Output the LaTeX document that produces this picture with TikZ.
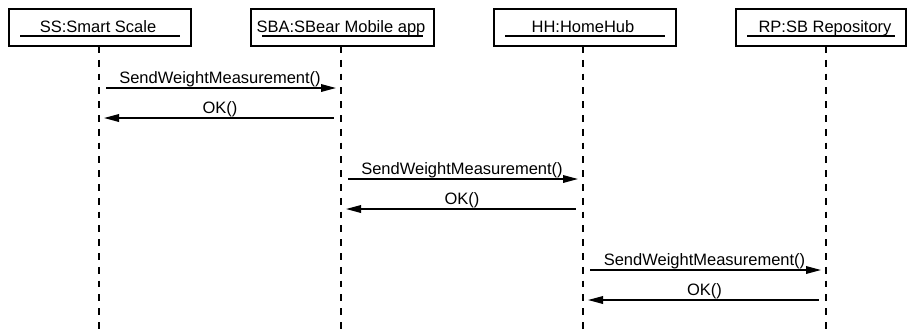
\documentclass[tikz,border=0pt]{standalone}
\usepackage{fontspec}
\setmainfont{Liberation Sans}
\usetikzlibrary{arrows.meta}
\begin{document}
\begin{tikzpicture}[x=0.5pt,y=-0.5pt,
  every node/.style={font=\fontsize{8.25}{10}\selectfont},
  box/.style={draw, line width=0.95pt, minimum height=18.5pt, inner sep=0pt, anchor=north west},
  boxlbl/.style={anchor=base, inner sep=0pt},
  uline/.style={line width=0.6pt},
  lifeline/.style={line width=0.8pt, dash pattern=on 3.4pt off 3.5pt},
  msg/.style={line width=0.75pt, -{Triangle[length=7.5pt,width=3.8pt]}, shorten <=3.7pt, shorten >=2.5pt},
  lbl/.style={anchor=base, inner sep=0pt, yshift=2.5pt}]
\useasboundingbox (0,0) rectangle (907,329);
% boxes
\node[box, minimum width=91pt] (ssbox) at (8,8) {};
\node[box, minimum width=91.5pt] (sbabox) at (250,8) {};
\node[box, minimum width=91pt] (hhbox) at (493,8) {};
\node[box, minimum width=85pt] (rpbox) at (735,8) {};
\foreach \b in {ssbox,sbabox,hhbox,rpbox}
  \draw[uline] ([xshift=6pt,yshift=5.5pt]\b.south west) -- ([xshift=-6pt,yshift=5.5pt]\b.south east);
\node[boxlbl] (sslbl) at (98,32) {SS:Smart Scale};
\node[boxlbl] (sbalbl) at (341,32) {SBA:SBear Mobile app};
\node[boxlbl] (hhlbl) at (583,32) {HH:HomeHub};
\node[boxlbl] (rplbl) at (825,32) {RP:SB Repository};
% lifelines
\coordinate (sstop) at (99,46);  \coordinate (ssbot) at (99,329);
\coordinate (sbatop) at (341,46); \coordinate (sbabot) at (341,329);
\coordinate (hhtop) at (583,46);  \coordinate (hhbot) at (583,329);
\coordinate (rptop) at (826,46);  \coordinate (rpbot) at (826,329);
\draw[lifeline] (sstop) -- (ssbot);
\draw[lifeline] (sbatop) -- (sbabot);
\draw[lifeline] (hhtop) -- (hhbot);
\draw[lifeline] (rptop) -- (rpbot);
% message points
\coordinate (ss1) at (99,88);   \coordinate (sba1) at (341,88);
\coordinate (ss2) at (99,118);  \coordinate (sba2) at (341,118);
\coordinate (sba3) at (341,179); \coordinate (hh3) at (583,179);
\coordinate (sba4) at (341,209); \coordinate (hh4) at (583,209);
\coordinate (hh5) at (583,270); \coordinate (rp5) at (826,270);
\coordinate (hh6) at (583,300); \coordinate (rp6) at (826,300);
\draw[msg] (ss1) -- node[lbl] (m1) {SendWeightMeasurement()} (sba1);
\draw[msg] (sba2) -- node[lbl] (m2) {OK()} (ss2);
\draw[msg] (sba3) -- node[lbl] (m3) {SendWeightMeasurement()} (hh3);
\draw[msg] (hh4) -- node[lbl] (m4) {OK()} (sba4);
\draw[msg] (hh5) -- node[lbl] (m5) {SendWeightMeasurement()} (rp5);
\draw[msg] (rp6) -- node[lbl] (m6) {OK()} (hh6);
\end{tikzpicture}
\end{document}
